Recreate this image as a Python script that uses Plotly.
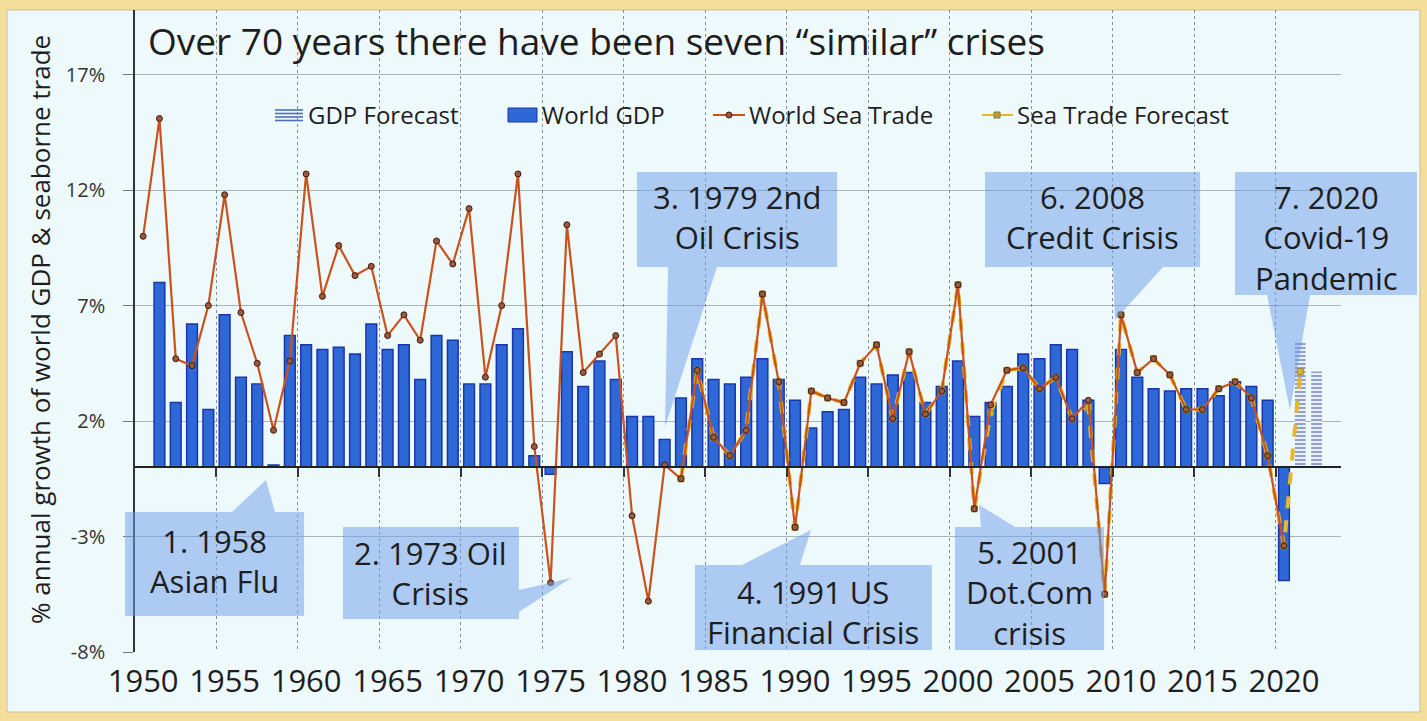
import plotly.graph_objects as go

# ---------------- data ----------------
trade_years = list(range(1950, 2021))
sea_trade = [
    10.0, 15.1, 4.7, 4.4, 7.0, 11.8, 6.7, 4.5, 1.6, 4.6,
    12.7, 7.4, 9.6, 8.3, 8.7, 5.7, 6.6, 5.5, 9.8, 8.8,
    11.2, 3.9, 7.0, 12.7, 0.9, -5.0, 10.5, 4.1, 4.9, 5.7,
    -2.1, -5.8, 0.1, -0.5, 4.2, 1.3, 0.5, 1.6, 7.5, 3.7,
    -2.6, 3.3, 3.0, 2.8, 4.5, 5.3, 2.1, 5.0, 2.3, 3.3,
    7.9, -1.8, 2.7, 4.2, 4.3, 3.4, 3.9, 2.1, 2.9, -5.5,
    6.6, 4.1, 4.7, 4.0, 2.5, 2.5, 3.4, 3.7, 3.0, 0.5,
    -3.4,
]

gdp_years = list(range(1951, 2021))
world_gdp = [
    8.0, 2.8, 6.2, 2.5, 6.6, 3.9, 3.6, 0.1, 5.7,
    5.3, 5.1, 5.2, 4.9, 6.2, 5.1, 5.3, 3.8, 5.7, 5.5,
    3.6, 3.6, 5.3, 6.0, 0.5, -0.3, 5.0, 3.5, 4.6, 3.8,
    2.2, 2.2, 1.2, 3.0, 4.7, 3.8, 3.6, 3.9, 4.7, 3.8,
    2.9, 1.7, 2.4, 2.5, 3.9, 3.6, 4.0, 4.1, 2.8, 3.5,
    4.6, 2.2, 2.8, 3.5, 4.9, 4.7, 5.3, 5.1, 2.9, -0.7,
    5.1, 3.9, 3.4, 3.3, 3.4, 3.4, 3.1, 3.7, 3.5, 2.9,
    -4.9,
]

gdp_fc_years = [2021, 2022]
gdp_forecast = [5.45, 4.15]

trade_fc_years = list(range(1983, 2022))
sea_trade_forecast = [
    -0.5, 4.2, 1.3, 0.5, 1.6, 7.5, 3.7, -2.6, 3.3, 3.0,
    2.8, 4.5, 5.3, 2.1, 5.0, 2.3, 3.3, 7.9, -1.8, 2.35,
    4.2, 4.3, 3.4, 3.9, 2.1, 2.6, -5.5, 6.6, 4.1, 4.7,
    4.0, 2.5, 2.5, 3.4, 3.7, 3.0, 0.5, -3.4, 4.15,
]

label_years = list(range(1950, 2021, 5))
grid_years = [y + 4.5 for y in range(1950, 2020, 5)]
pct_ticks = [-8, -3, 2, 7, 12, 17]

# ---------------- geometry ----------------
W, H = 1427, 721
ML, MR, MT, MB = 135, 86, 10, 69
X_RANGE = (1949.5, 2023.5)
Y_RANGE = (-8, 19.8)
FONT = "Open Sans"
INK = "#1e1e1e"


def px_paper(px):
    return (px - ML) / (W - ML - MR)


def py_paper(py):
    return (H - MB - py) / (H - MT - MB)


def dx(x):
    return (x - X_RANGE[0]) / (X_RANGE[1] - X_RANGE[0])


def dy(y):
    return (y - Y_RANGE[0]) / (Y_RANGE[1] - Y_RANGE[0])


BAR_BLUE = "#2E68D6"
BAR_EDGE = "#1A36AA"
TRADE = "#C9521D"
FC_YELLOW = "#E6B92A"

fig = go.Figure()

fig.add_trace(go.Bar(
    x=gdp_years, y=world_gdp, width=0.66, name="World GDP",
    marker=dict(color=BAR_BLUE, line=dict(color=BAR_EDGE, width=1.5)),
    showlegend=False,
))
fig.add_trace(go.Bar(
    x=gdp_fc_years, y=gdp_forecast, width=0.66, name="GDP Forecast",
    marker=dict(color="white", line=dict(width=0),
                pattern=dict(shape="-", fgcolor="#2A4C98", bgcolor="#F4F8FF",
                             size=4, solidity=0.55)),
    showlegend=False,
))
fig.add_trace(go.Scatter(
    x=trade_fc_years, y=sea_trade_forecast, mode="lines+markers",
    name="Sea Trade Forecast",
    line=dict(color=FC_YELLOW, width=4, dash="dash"),
    marker=dict(symbol="square", size=6, color="#D8B02A",
                line=dict(color="#9C8A30", width=1)),
    showlegend=False,
))
fig.add_trace(go.Scatter(
    x=trade_years, y=sea_trade, mode="lines+markers", name="World Sea Trade",
    line=dict(color=TRADE, width=2.2),
    marker=dict(size=6, color="#9A5A3C", line=dict(color="#3E1A0C", width=1)),
    showlegend=False,
))
# carrier for the secondary axis that draws the zero line and its ticks
fig.add_trace(go.Scatter(x=[], y=[], xaxis="x2", yaxis="y", showlegend=False,
                         hoverinfo="skip"))

shapes = []
annotations = []

# chart panel on the tan frame
shapes.append(dict(type="rect", xref="paper", yref="paper", layer="below",
                   x0=px_paper(7), x1=px_paper(1420), y0=py_paper(712),
                   y1=py_paper(10), fillcolor="#EEF9FC",
                   line=dict(color="#CDBF8C", width=1)))

# crisis call-outs (box + pointer), in axis units
callouts = [
    dict(text="1. 1958<br>Asian Flu", box=(1948.89, 1959.87, -6.44, -1.94),
         base=((1955.45, -1.94), (1958.09, -1.94)), tip=(1957.54, -0.55),
         at=(1954.35, -4.06)),
    dict(text="2. 1973 Oil<br>Crisis", box=(1962.26, 1973.06, -6.57, -2.59),
         base=((1973.06, -5.31), (1973.06, -6.27)), tip=(1976.25, -4.8),
         at=(1967.66, -4.58)),
    dict(text="3. 1979 2nd<br>Oil Crisis", box=(1980.30, 1992.58, 8.67, 12.79),
         base=((1982.21, 8.67), (1985.21, 8.67)), tip=(1982.02, 1.74),
         at=(1986.44, 10.84)),
    dict(text="4. 1991 US<br>Financial Crisis", box=(1983.86, 1998.40, -7.91, -4.23),
         base=((1986.75, -4.23), (1990.30, -4.23)), tip=(1990.98, -2.72),
         at=(1991.10, -6.27)),
    dict(text="5. 2001<br>Dot.Com<br>crisis", box=(1999.82, 2008.96, -7.91, -2.59),
         base=((2001.41, -2.59), (2003.50, -2.59)), tip=(2001.29, -1.63),
         at=(2004.36, -5.44)),
    dict(text="6. 2008<br>Credit Crisis", box=(2001.66, 2014.85, 8.67, 12.79),
         base=((2009.51, 8.67), (2012.58, 8.67)), tip=(2009.63, 6.38),
         at=(2008.28, 10.84)),
    dict(text="7. 2020<br>Covid-19<br>Pandemic", box=(2017.0, 2028.16, 7.46, 12.79),
         base=((2018.96, 7.46), (2021.60, 7.46)), tip=(2020.37, 2.48),
         at=(2022.64, 9.93)),
]

for c in callouts:
    x0, x1, y0, y1 = c["box"]
    (bx1, by1), (bx2, by2) = c["base"]
    tx, ty = c["tip"]
    path = (f"M{dx(x0):.5f},{dy(y0):.5f} L{dx(x1):.5f},{dy(y0):.5f} "
            f"L{dx(x1):.5f},{dy(y1):.5f} L{dx(x0):.5f},{dy(y1):.5f} Z "
            f"M{dx(bx1):.5f},{dy(by1):.5f} L{dx(tx):.5f},{dy(ty):.5f} "
            f"L{dx(bx2):.5f},{dy(by2):.5f} Z")
    shapes.append(dict(type="path", xref="paper", yref="paper", path=path,
                       layer="above", fillcolor="rgba(112,160,232,0.52)",
                       line=dict(width=0)))
    annotations.append(dict(x=c["at"][0], y=c["at"][1], xref="x", yref="y",
                            text=c["text"], showarrow=False,
                            font=dict(family=FONT, size=31, color=INK),
                            xanchor="center", yanchor="middle"))

# legend row
LY = 115
# GDP Forecast: striped swatch
for k in range(4):
    yy = 110 + k * 3.5
    shapes.append(dict(type="line", xref="paper", yref="paper",
                       x0=px_paper(275), x1=px_paper(303),
                       y0=py_paper(yy), y1=py_paper(yy),
                       line=dict(color="#4A6FB8", width=1.6)))
# World GDP: solid swatch
shapes.append(dict(type="rect", xref="paper", yref="paper",
                   x0=px_paper(508), x1=px_paper(537),
                   y0=py_paper(122), y1=py_paper(108),
                   fillcolor=BAR_BLUE, line=dict(color=BAR_EDGE, width=1)))
# World Sea Trade: line with marker
shapes.append(dict(type="line", xref="paper", yref="paper",
                   x0=px_paper(713), x1=px_paper(745),
                   y0=py_paper(LY), y1=py_paper(LY),
                   line=dict(color=TRADE, width=2)))
shapes.append(dict(type="circle", xref="paper", yref="paper",
                   x0=px_paper(726), x1=px_paper(732),
                   y0=py_paper(LY + 3), y1=py_paper(LY - 3),
                   fillcolor="#9A5A3C", line=dict(color="#3E1A0C", width=1)))
# Sea Trade Forecast: line with marker
shapes.append(dict(type="line", xref="paper", yref="paper",
                   x0=px_paper(982), x1=px_paper(1013),
                   y0=py_paper(LY), y1=py_paper(LY),
                   line=dict(color=FC_YELLOW, width=2)))
shapes.append(dict(type="rect", xref="paper", yref="paper",
                   x0=px_paper(994), x1=px_paper(1000),
                   y0=py_paper(LY + 3), y1=py_paper(LY - 3),
                   fillcolor="#B8A040", line=dict(color="#8A7A30", width=1)))

for label, left in [("GDP Forecast", 306), ("World GDP", 540),
                    ("World Sea Trade", 747), ("Sea Trade Forecast", 1015)]:
    annotations.append(dict(x=px_paper(left), y=py_paper(LY), xref="paper",
                            yref="paper", text=label, showarrow=False,
                            xanchor="left", yanchor="middle",
                            font=dict(family=FONT, size=24, color=INK)))

# title
annotations.append(dict(x=px_paper(146), y=py_paper(41), xref="paper", yref="paper",
                        text="Over 70 years there have been seven \u201csimilar\u201d crises",
                        showarrow=False, xanchor="left", yanchor="middle",
                        font=dict(family=FONT, size=37, color=INK)))
# y-axis title
annotations.append(dict(x=px_paper(40), y=py_paper(330), xref="paper", yref="paper",
                        text="% annual growth of world GDP & seaborne trade",
                        textangle=-90, showarrow=False,
                        xanchor="center", yanchor="middle",
                        font=dict(family=FONT, size=26, color=INK)))
# open question on the outlook
annotations.append(dict(x=2023.93, y=4.21, xref="x", yref="y", text="?",
                        showarrow=False, font=dict(family=FONT, size=30, color=INK)))

zero_pos = dy(0)

fig.update_layout(
    width=W, height=H,
    margin=dict(l=ML, r=MR, t=MT, b=MB, autoexpand=False),
    paper_bgcolor="#F3DE9C",
    plot_bgcolor="rgba(0,0,0,0)",
    barmode="overlay",
    showlegend=False,
    font=dict(family=FONT, color=INK),
    shapes=shapes,
    annotations=annotations,
    xaxis=dict(range=list(X_RANGE), tickmode="array", tickvals=label_years,
               ticktext=[str(y) for y in label_years], showgrid=False,
               zeroline=False, showline=False, ticks="",
               ticklabelstandoff=8,
               tickfont=dict(family=FONT, size=31, color=INK)),
    xaxis2=dict(range=list(X_RANGE), overlaying="x", anchor="free",
                position=zero_pos, side="bottom", tickmode="array",
                tickvals=grid_years, showticklabels=False,
                ticks="outside", ticklen=9, tickwidth=2, tickcolor="#333",
                showline=True, linecolor="#222", linewidth=2,
                showgrid=True, gridcolor="rgba(95,110,130,0.75)",
                griddash="dot", gridwidth=1, zeroline=False),
    yaxis=dict(range=list(Y_RANGE), tickmode="array", tickvals=pct_ticks,
               ticktext=[f"{v}%" for v in pct_ticks],
               showgrid=True, gridcolor="#A9B4BC", gridwidth=1,
               zeroline=False, showline=True, linecolor="#333", linewidth=1.5,
               ticks="outside", ticklen=10, tickcolor="#777",
               ticklabelstandoff=14,
               tickfont=dict(family=FONT, size=20, color="#333")),
)

fig.write_html("out.html")
